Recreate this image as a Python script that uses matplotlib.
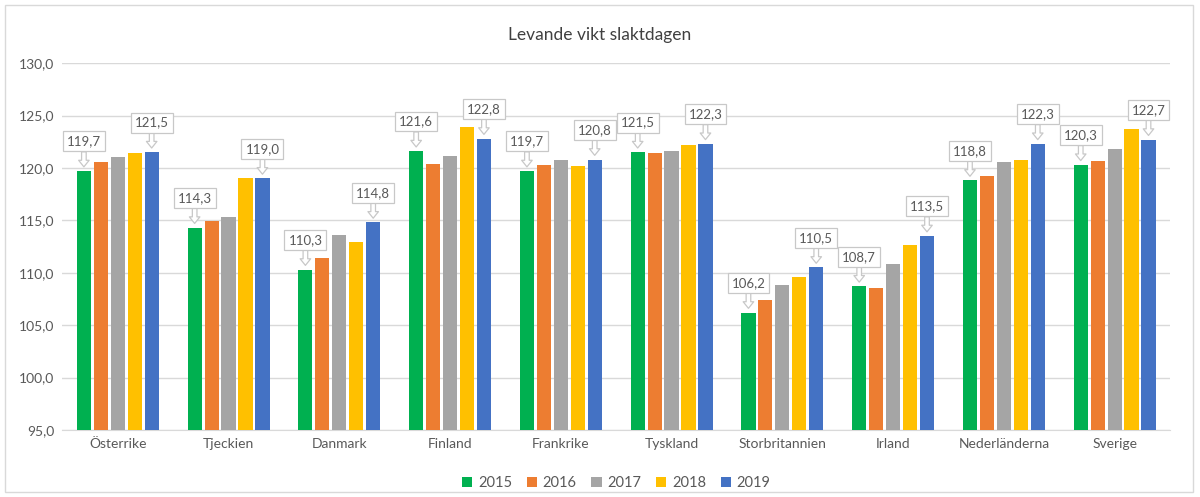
import numpy as np
import matplotlib
matplotlib.use("Agg")
import matplotlib.pyplot as plt
from matplotlib.patches import Rectangle

plt.rcParams['font.family'] = ['Lato', 'DejaVu Sans']

countries = ["Österrike", "Tjeckien", "Danmark", "Finland", "Frankrike",
             "Tyskland", "Storbritannien", "Irland", "Nederländerna", "Sverige"]
years = ["2015", "2016", "2017", "2018", "2019"]

v2015 = [119.7, 114.3, 110.3, 121.6, 119.7, 121.5, 106.2, 108.7, 118.8, 120.3]
v2016 = [120.6, 114.9, 111.4, 120.4, 120.3, 121.4, 107.4, 108.5, 119.2, 120.7]
v2017 = [121.0, 115.3, 113.6, 121.1, 120.8, 121.6, 108.8, 110.8, 120.6, 121.8]
v2018 = [121.4, 119.0, 112.9, 123.9, 120.2, 122.2, 109.6, 112.6, 120.8, 123.7]
v2019 = [121.5, 119.0, 114.8, 122.8, 120.8, 122.3, 110.5, 113.5, 122.3, 122.7]

colors = ["#00B050", "#ED7D31", "#A5A5A5", "#FFC000", "#4472C4"]
series = [v2015, v2016, v2017, v2018, v2019]

fig = plt.figure(figsize=(12, 4.97), dpi=100)
ax = fig.add_axes([0.052, 0.135, 0.923, 0.738])

x = np.arange(len(countries))
step = 0.153
width = 0.128
for i, vals in enumerate(series):
    ax.bar(x + (i - 2) * step, vals, width=width, color=colors[i], label=years[i], zorder=3)

# callout labels for first and last year
def label(xpos, val):
    ax.annotate(f"{val:.1f}".replace(".", ","), xy=(xpos, val + 0.4), xytext=(0, 14),
                textcoords="offset points", ha="center", va="bottom", fontsize=9.5, color="#595959",
                bbox=dict(boxstyle="square,pad=0.3", fc="white", ec="#c8c8c8", lw=0.9),
                arrowprops=dict(arrowstyle="simple,head_length=0.5,head_width=0.8,tail_width=0.35",
                                fc="white", ec="#c8c8c8", lw=0.9, shrinkA=0, shrinkB=0),
                zorder=5)

for j in range(len(countries)):
    label(x[j] - 2 * step, v2015[j])
    label(x[j] + 2 * step, v2019[j])

ax.set_ylim(95, 130)
ax.set_xlim(-0.5, len(countries) - 0.5)
yt = np.arange(95, 131, 5)
ax.set_yticks(yt)
ax.set_yticklabels([f"{t:.1f}".replace(".", ",") for t in yt], fontsize=10, color="#595959")
ax.set_xticks(x)
ax.set_xticklabels(countries, fontsize=10, color="#595959")
ax.tick_params(axis="both", length=0, pad=6)
ax.grid(axis="y", color="#d9d9d9", lw=1, zorder=0)
for s in ["top", "right", "left"]:
    ax.spines[s].set_visible(False)
ax.spines["bottom"].set_color("#d9d9d9")

fig.text(0.5, 0.93, "Levande vikt slaktdagen", ha="center", va="center", fontsize=12.5, color="#404040")

leg = ax.legend(loc="upper center", bbox_to_anchor=(0.5, -0.09), ncol=5, frameon=False,
                fontsize=10.5, handlelength=0.7, handleheight=0.7, handletextpad=0.4, columnspacing=1.0)
for t in leg.get_texts():
    t.set_color("#595959")

fig.patches.append(Rectangle((0.004, 0.01), 0.99, 0.98, transform=fig.transFigure,
                             fill=False, ec="#d9d9d9", lw=1))

fig.savefig("out.png", dpi=100)
